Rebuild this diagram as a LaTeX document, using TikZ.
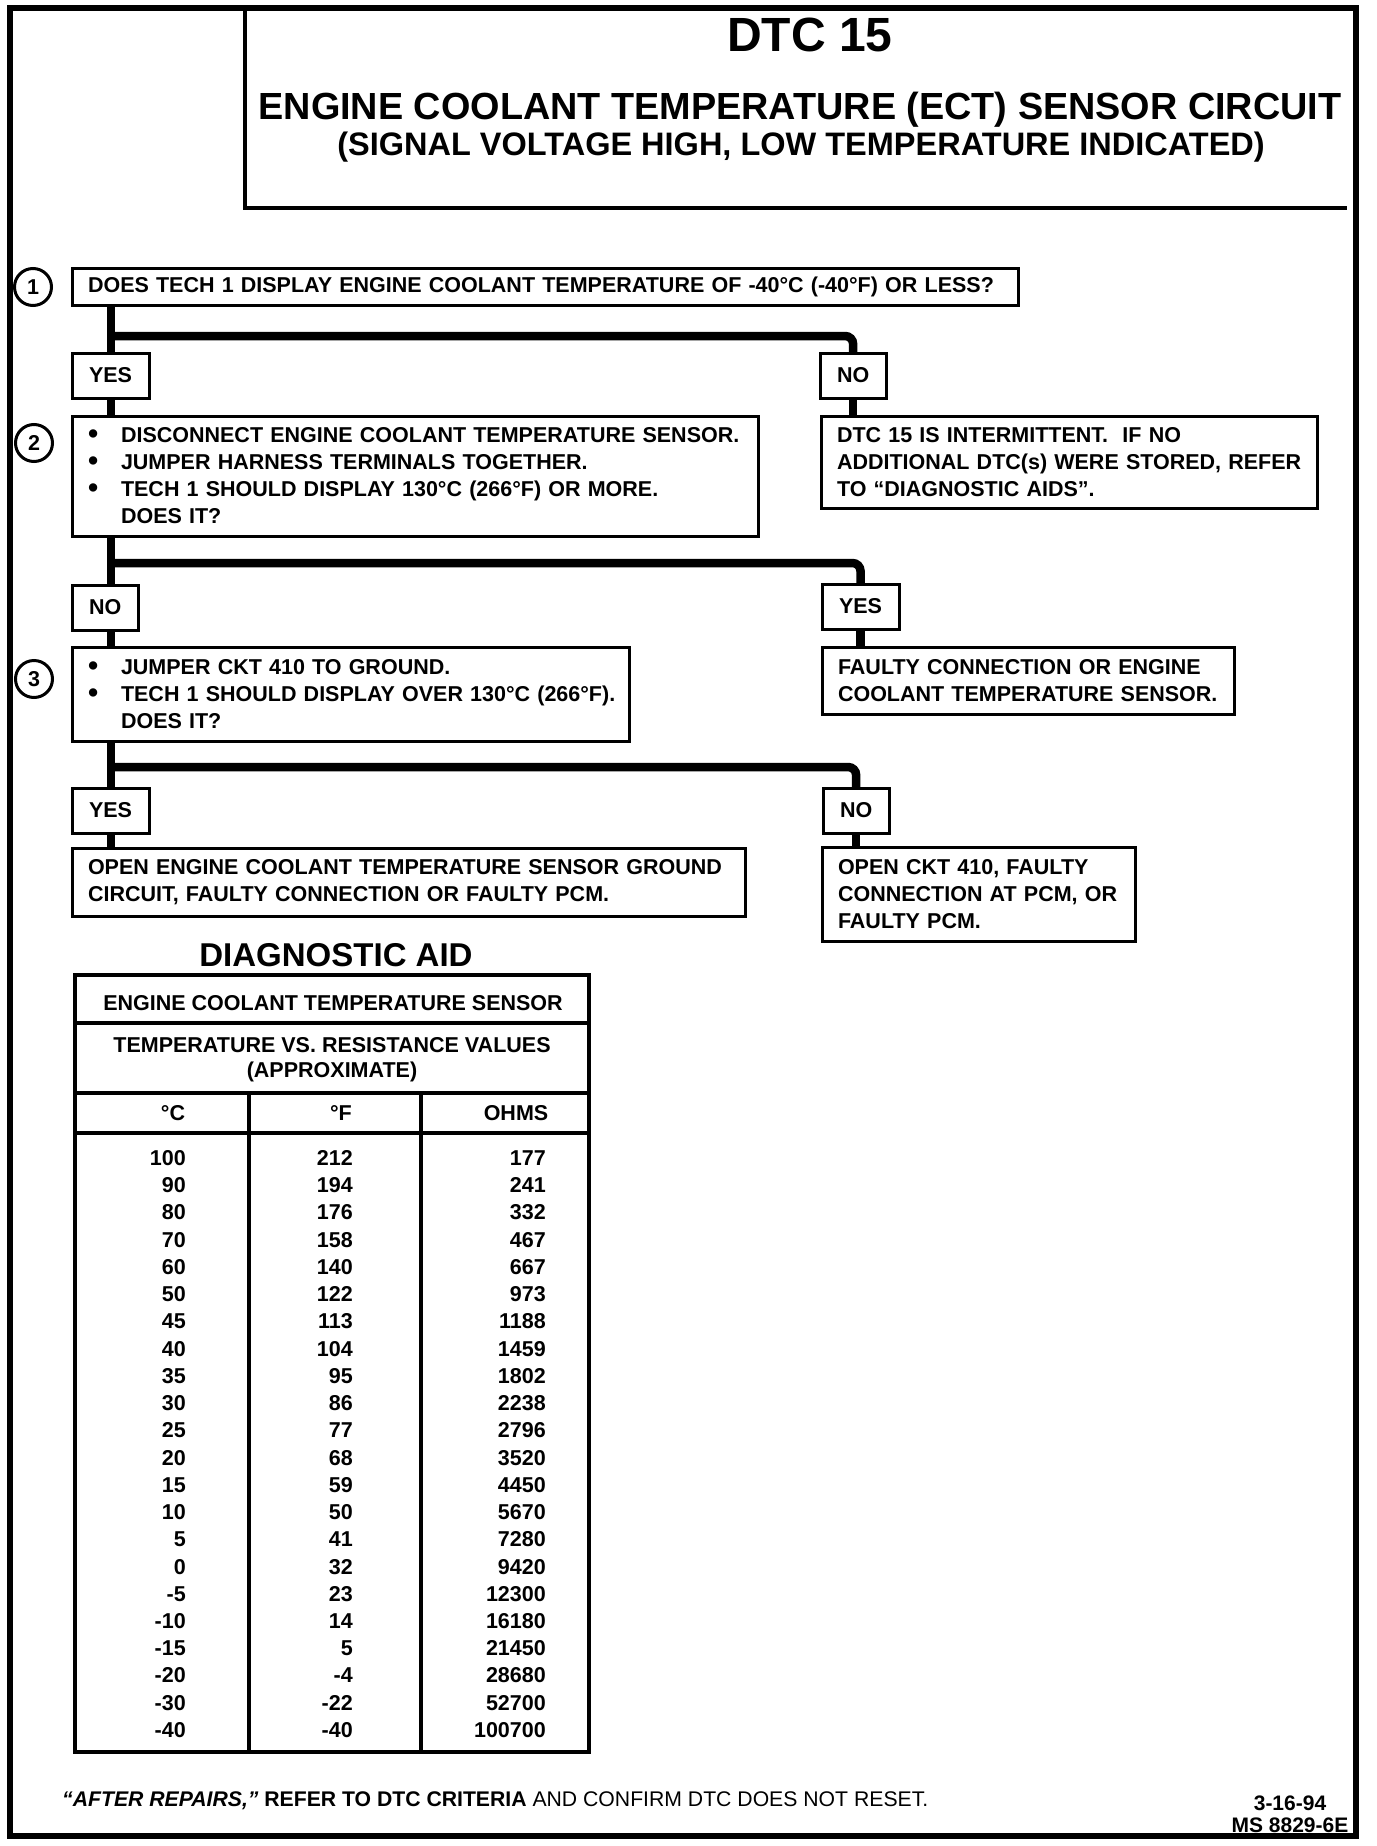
\documentclass[tikz,border=0pt]{standalone}
\usepackage{fontspec}
\setmainfont{Liberation Sans}
\usetikzlibrary{positioning, calc}
\newcommand\bodyfont{\fontsize{21.5}{27}\selectfont\bfseries}
\newcommand\bulletmark{\makebox[33pt][l]{\raisebox{-1pt}{\fontsize{29}{27}\selectfont\textbullet}}}
\newcommand\bulletskip{\hspace*{33pt}}
\tikzset{
	qbox/.style    ={rectangle, draw=black, line width=3pt, anchor=north west, outer sep=0pt, inner xsep=16pt, inner ysep=0pt, align=left, font=\bodyfont},
	ansbox/.style  ={rectangle, draw=black, line width=3pt, anchor=north west, outer sep=0pt, inner xsep=17pt, inner ysep=0pt, minimum height=45pt, font=\bodyfont},
	numbadge/.style={circle, draw=black, line width=3pt, minimum size=37pt, inner sep=0pt, font=\bodyfont},
	flowline/.style={line width=8.5pt, rounded corners=8pt},
	% table text helpers
	tcell/.style   ={anchor=east, inner sep=0pt, font=\bodyfont},
	thead/.style   ={anchor=center, inner sep=0pt, align=center, font=\bodyfont},
	rule/.style    ={line width=4pt},
}

\begin{document}
\begin{tikzpicture}[x=1pt, y=-1pt]
	\useasboundingbox (0,0) rectangle (1376,1846);
	% frame and title block
	\draw[line width=6pt] (10,8) rectangle (1356,1836);
	\draw[line width=4pt] (245,8) |- (1347,208);
	\node[anchor=base, inner sep=0pt, font=\fontsize{48}{50}\selectfont\bfseries] (title) at (810,52) {DTC 15};
	\node[anchor=base, inner sep=0pt, font=\fontsize{37.8}{40}\selectfont\bfseries] (title2) at (800,120) {ENGINE COOLANT TEMPERATURE (ECT) SENSOR CIRCUIT};
	\node[anchor=base, inner sep=0pt, font=\fontsize{32.5}{34}\selectfont\bfseries] (title3) at (801,156) {(SIGNAL VOLTAGE HIGH, LOW TEMPERATURE INDICATED)};

	% steps
	\node[numbadge] (s1) at (33,287) {1};
	\node[numbadge] (s2) at (34,443) {2};
	\node[numbadge] (s3) at (34,679) {3};

	\node[qbox, text width=914pt, minimum height=37pt] (q1) at (72,268)
		{\mbox{DOES TECH 1 DISPLAY ENGINE COOLANT TEMPERATURE OF -40°C (-40°F) OR LESS?}};
	\node[qbox, text width=654pt, minimum height=120pt] (q2) at (72,416)
		{\mbox{\bulletmark DISCONNECT ENGINE COOLANT TEMPERATURE SENSOR.}\\
		 \mbox{\bulletmark JUMPER HARNESS TERMINALS TOGETHER.}\\
		 \mbox{\bulletmark TECH 1 SHOULD DISPLAY 130°C (266°F) OR MORE.}\\
		 \mbox{\bulletskip DOES IT?}};
	\node[qbox, text width=525pt, minimum height=94pt] (q3) at (72,647)
		{\mbox{\bulletmark JUMPER CKT 410 TO GROUND.}\\
		 \mbox{\bulletmark TECH 1 SHOULD DISPLAY OVER 130°C (266°F).}\\
		 \mbox{\bulletskip DOES IT?}};

	% results
	\node[qbox, text width=464pt, minimum height=92pt] (r1) at (821,416)
		{\mbox{DTC 15 IS INTERMITTENT.\ \ IF NO}\\
		 \mbox{ADDITIONAL DTC(s) WERE STORED, REFER}\\
		 \mbox{TO “DIAGNOSTIC AIDS”.}};
	\node[qbox, text width=380pt, minimum height=67pt] (r2) at (822,647)
		{\mbox{FAULTY CONNECTION OR ENGINE}\\
		 \mbox{COOLANT TEMPERATURE SENSOR.}};
	\node[qbox, text width=641pt, minimum height=68pt] (r3) at (72,848)
		{\mbox{OPEN ENGINE COOLANT TEMPERATURE SENSOR GROUND}\\
		 \mbox{CIRCUIT, FAULTY CONNECTION OR FAULTY PCM.}};
	\node[qbox, text width=281pt, minimum height=94pt] (r4) at (822,847)
		{\mbox{OPEN CKT 410, FAULTY}\\
		 \mbox{CONNECTION AT PCM, OR}\\
		 \mbox{FAULTY PCM.}};

	% answers
	\node[ansbox] (a1) at (72,353) {YES};
	\node[ansbox] (n1) at (820,353) {NO};
	\node[ansbox] (b1) at (72,585) {NO};
	\node[ansbox] (y2) at (822,584) {YES};
	\node[ansbox] (c1) at (72,788) {YES};
	\node[ansbox] (n3) at (823,788) {NO};

	% connectors
	\coordinate (j1) at (111,336);
	\coordinate (j2) at (111,563);
	\coordinate (j3) at (111,767);
	\draw[flowline] (q1.south -| j1) -- (a1.north -| j1);
	\draw[flowline] (j1) -| (n1.north);
	\draw[flowline] (a1.south -| j1) -- (q2.north -| j1);
	\draw[flowline] (n1.south) -- (n1.south |- r1.north);
	\draw[flowline] (q2.south -| j2) -- (b1.north -| j2);
	\draw[flowline] (j2) -| (y2.north);
	\draw[flowline] (b1.south -| j2) -- (q3.north -| j2);
	\draw[flowline] (y2.south) -- (y2.south |- r2.north);
	\draw[flowline] (q3.south -| j3) -- (c1.north -| j3);
	\draw[flowline] (j3) -| (n3.north);
	\draw[flowline] (c1.south -| j3) -- (r3.north -| j3);
	\draw[flowline] (n3.south) -- (n3.south |- r4.north);

	% diagnostic aid table
	\node[anchor=base, inner sep=0pt, font=\fontsize{33}{34}\selectfont\bfseries] (diag) at (336,966) {DIAGNOSTIC AID};
	\draw[rule] (75,975) rectangle (589,1752);
	\draw[rule] (75,1023) -- (589,1023);
	\draw[rule] (75,1093) -- (589,1093);
	\draw[rule] (75,1133) -- (589,1133);
	\draw[rule] (249,1093) -- (249,1752);
	\draw[rule] (421,1093) -- (421,1752);
	\node[thead] (tt1) at (333,1003) {ENGINE COOLANT TEMPERATURE SENSOR};
	\node[thead, font=\fontsize{21.5}{25}\selectfont\bfseries] (tt2) at (332,1060) {TEMPERATURE VS. RESISTANCE VALUES\\(APPROXIMATE)};
	\node[thead] (hc) at (173,1113) {°C};
	\node[thead] (hf) at (341,1113) {°F};
	\node[thead] (ho) at (516,1113) {OHMS};
	\foreach \degc/\degf/\ohm [count=\i from 0] in {100/212/177, 90/194/241, 80/176/332, 70/158/467, 60/140/667, 50/122/973, 45/113/1188, 40/104/1459, 35/95/1802, 30/86/2238, 25/77/2796, 20/68/3520, 15/59/4450, 10/50/5670, 5/41/7280, 0/32/9420, -5/23/12300, -10/14/16180, -15/5/21450, -20/-4/28680, -30/-22/52700, -40/-40/100700} {
		\node[tcell] (c\i) at (186,{1158+27.24*\i}) {\degc};
		\node[tcell] (f\i) at (353,{1158+27.24*\i}) {\degf};
		\node[tcell] (o\i) at (546,{1158+27.24*\i}) {\ohm};
	}

	% footer
	\node[anchor=base west, inner sep=0pt, font=\fontsize{21.2}{23}\selectfont] (foot) at (62,1806)
		{{\bfseries\itshape “AFTER REPAIRS,”} {\bfseries REFER TO DTC CRITERIA} AND CONFIRM DTC DOES NOT RESET.};
	\node[anchor=base, inner sep=0pt, font=\fontsize{21}{23}\selectfont\bfseries] (date) at (1290,1810) {3-16-94};
	\node[anchor=base, inner sep=0pt, font=\fontsize{21}{23}\selectfont\bfseries] (docno) at (1290,1832) {MS 8829-6E};
\end{tikzpicture}
\end{document}
